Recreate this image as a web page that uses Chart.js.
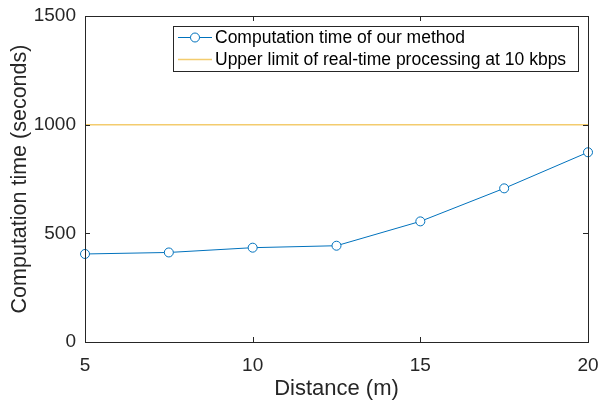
<!DOCTYPE html>
<html>
<head>
<meta charset="utf-8">
<script src="https://cdn.jsdelivr.net/npm/chart.js@4"></script>
<style>
  html, body { margin: 0; padding: 0; background: #fff; }
  #wrap { width: 598px; height: 400px; }
</style>
</head>
<body>
<div id="wrap"><canvas id="chart" width="598" height="400"></canvas></div>
<script>
// Data
const distances = [5, 7.5, 10, 12.5, 15, 17.5, 20];
const computeTimes = [405, 412, 434, 443, 555, 707, 873];
const limitX = [5, 20];
const limitY = [1000, 1000];
const xTicks = [5, 10, 15, 20];
const yTicks = [0, 500, 1000, 1500];
const seriesLabels = ['Computation time of our method', 'Upper limit of real-time processing at 10 kbps'];

const axisColor = '#262626';
const blue = '#0072BD';
const yellow = 'rgba(237, 177, 32, 0.65)';
const font = '"Liberation Sans", Arial, Helvetica, sans-serif';

// Box + inward tick marks, MATLAB style
const boxPlugin = {
    id: 'boxTicks',
    afterDatasetsDraw(chart) {
        const { ctx, chartArea: a, scales } = chart;
        ctx.save();
        ctx.strokeStyle = axisColor;
        ctx.lineWidth = 1;
        ctx.strokeRect(Math.round(a.left) + 0.5, Math.round(a.top) + 0.5,
            Math.round(a.right - a.left), Math.round(a.bottom - a.top));
        const len = 5;
        ctx.beginPath();
        xTicks.forEach(v => {
            const x = Math.round(scales.x.getPixelForValue(v)) + 0.5;
            ctx.moveTo(x, a.bottom); ctx.lineTo(x, a.bottom - len);
            ctx.moveTo(x, a.top); ctx.lineTo(x, a.top + len);
        });
        yTicks.forEach(v => {
            const y = Math.round(scales.y.getPixelForValue(v)) + 0.5;
            ctx.moveTo(a.left, y); ctx.lineTo(a.left + len, y);
            ctx.moveTo(a.right, y); ctx.lineTo(a.right - len, y);
        });
        ctx.stroke();
        ctx.restore();
    }
};

// Legend drawn inside the axes, top right
const legendPlugin = {
    id: 'insideLegend',
    afterDraw(chart) {
        const { ctx } = chart;
        const left = 173, top = 26, right = 578, bottom = 71;
        ctx.save();
        ctx.fillStyle = '#fff';
        ctx.fillRect(left, top, right - left, bottom - top);
        ctx.strokeStyle = axisColor;
        ctx.lineWidth = 1;
        ctx.strokeRect(left + 0.5, top + 0.5, right - left, bottom - top);
        const rows = [37.5, 59.5];
        ctx.font = '17.5px ' + font;
        ctx.textBaseline = 'middle';
        chart.data.datasets.forEach((ds, i) => {
            const y = rows[i];
            ctx.strokeStyle = ds.borderColor;
            ctx.lineWidth = ds.borderWidth;
            ctx.beginPath();
            ctx.moveTo(178, y); ctx.lineTo(212, y);
            ctx.stroke();
            if (ds.pointRadius > 0) {
                ctx.fillStyle = '#fff';
                ctx.beginPath();
                ctx.arc(195, y, 4.5, 0, Math.PI * 2);
                ctx.fill();
                ctx.stroke();
            }
            ctx.fillStyle = '#000';
            ctx.fillText(ds.label, 215, y + 1);
        });
        ctx.restore();
    }
};

new Chart(document.getElementById('chart'), {
    type: 'line',
    data: {
        datasets: [
            {
                label: seriesLabels[0],
                data: distances.map((d, i) => ({ x: d, y: computeTimes[i] })),
                borderColor: blue,
                backgroundColor: '#fff',
                borderWidth: 1,
                pointRadius: 4.5,
                pointBorderWidth: 1,
                pointBackgroundColor: '#fff',
                pointBorderColor: blue,
                tension: 0
            },
            {
                label: seriesLabels[1],
                data: limitX.map((x, i) => ({ x: x, y: limitY[i] })),
                borderColor: yellow,
                borderWidth: 1.5,
                pointRadius: 0,
                tension: 0
            }
        ]
    },
    options: {
        responsive: false,
        animation: false,
        clip: false,
        layout: { padding: { left: 0, right: 10, top: 16, bottom: 0 } },
        plugins: { legend: { display: false }, tooltip: { enabled: false } },
        scales: {
            x: {
                type: 'linear',
                min: 5, max: 20,
                afterBuildTicks: s => { s.ticks = xTicks.map(v => ({ value: v })); },
                afterFit: s => { s.height = 58; s.paddingRight = 0; s.paddingLeft = 0; },
                grid: { display: false, drawTicks: false },
                border: { display: false },
                ticks: { color: axisColor, font: { family: font, size: 19 }, padding: 12, maxRotation: 0,
                    callback: v => String(v) },
                title: { display: true, text: 'Distance (m)', color: axisColor, font: { family: font, size: 22 }, padding: { top: 0, bottom: -2 } }
            },
            y: {
                type: 'linear',
                min: 0, max: 1500,
                afterBuildTicks: s => { s.ticks = yTicks.map(v => ({ value: v })); },
                afterFit: s => { s.width = 85; s.paddingTop = 0; s.paddingBottom = 0; },
                grid: { display: false, drawTicks: false },
                border: { display: false },
                ticks: { color: axisColor, font: { family: font, size: 19 }, padding: 9,
                    callback: v => String(v) },
                title: { display: true, text: 'Computation time (seconds)', color: axisColor, font: { family: font, size: 21.5 }, padding: { top: 7, bottom: 0 } }
            }
        }
    },
    plugins: [boxPlugin, legendPlugin]
});
</script>
</body>
</html>
